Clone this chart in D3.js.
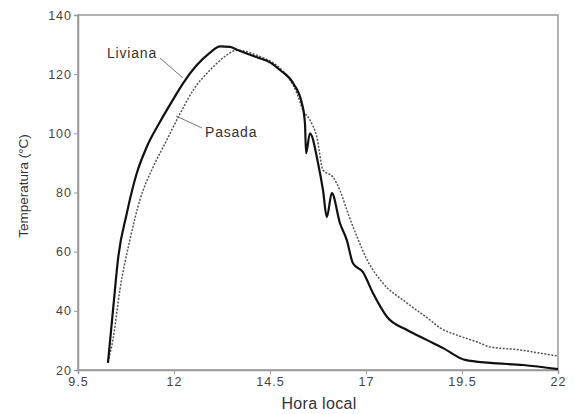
<!DOCTYPE html>
<html><head><meta charset="utf-8">
<script src="https://cdn.jsdelivr.net/npm/d3@7"></script>
<style>body{margin:0;background:#fff}svg{display:block;font-family:"Liberation Sans",Arial,sans-serif}</style>
</head><body><svg id="c" width="575" height="414"></svg>
<script>
const livianaHour = [10.28,10.42,10.55,10.77,11.03,11.29,11.64,11.98,12.24,12.59,12.94,13.20,13.46,13.67,14.16,14.5,14.76,15.10,15.33,15.41,15.44,15.54,15.75,15.88,15.98,16.11,16.32,16.50,16.66,16.92,17.18,17.55,18.07,18.59,19.01,19.58,20.23,21.09,22.0];
const livianaTemp = [22.4,41.4,58.3,72.9,86.5,95.4,104,111.5,117,123,127.3,129.4,129.2,128.1,125.7,124,121.4,117,110.2,103.4,93.3,100,90,80.8,71.7,79.8,69.7,63.9,56.1,53.1,46,37.9,33.5,30.1,27.4,23.4,22.4,21.7,20.3];
const pesadaHour = [10.28,10.42,10.59,10.85,11.11,11.46,11.81,12.16,12.50,12.94,13.37,13.63,14.16,14.5,14.81,15.2,15.36,15.54,15.72,15.88,16.14,16.32,16.53,16.77,17.03,17.44,18.07,18.67,18.93,19.37,19.97,20.23,21.01,21.53,22.0];
const pesadaTemp = [22.7,31,47,63.9,77.4,88.7,97.7,106.7,114.6,121.4,126.4,128.1,126.4,124.4,121.4,113.6,107.8,104.5,98.7,87.6,85.2,80.8,73,64.9,57.2,49.4,42.6,36.9,34.2,31.8,29.1,27.8,26.8,25.7,24.7];
const xTicks = [9.5,12,14.5,17,19.5,22];
const yTicks = [20,40,60,80,100,120,140];
const seriesNames = ["Liviana","Pasada"];

const svg = d3.select("#c");
const x = d3.scaleLinear().domain([9.5,22]).range([78,558]);
const y = d3.scaleLinear().domain([20,140]).range([370,15]);

svg.append("rect").attr("x",x(9.5)).attr("y",y(140)).attr("width",x(22)-x(9.5)).attr("height",y(20)-y(140))
  .attr("fill","none").attr("stroke","#999").attr("stroke-width",1.5);

const xa = svg.append("g").attr("transform",`translate(0,${y(20)})`)
  .call(d3.axisBottom(x).tickValues(xTicks).tickFormat(d=>String(d)).tickSize(4).tickPadding(3));
const ya = svg.append("g").attr("transform",`translate(${x(9.5)},0)`)
  .call(d3.axisLeft(y).tickValues(yTicks).tickSize(4).tickPadding(3));
[xa,ya].forEach(a=>{
  a.select(".domain").attr("stroke","#999").attr("stroke-width",1.5);
  a.selectAll(".tick line").attr("stroke","#999");
  a.selectAll(".tick text").attr("fill","#444").style("font-size","12.5px").style("letter-spacing","1px").style("font-family","Liberation Sans, Arial, sans-serif");
});
ya.selectAll(".tick text").attr("dx","1");

const line = d3.line().x(d=>x(d[0])).y(d=>y(d[1])).curve(d3.curveMonotoneX);
const pes = pesadaHour.map((h,i)=>[h,pesadaTemp[i]]);
const liv = livianaHour.map((h,i)=>[h,livianaTemp[i]]);
svg.append("path").datum(pes).attr("d",line).attr("fill","none").attr("stroke","#555").attr("stroke-width",1.5).attr("stroke-dasharray","2,1.5");
svg.append("path").datum(liv).attr("d",line).attr("fill","none").attr("stroke","#111").attr("stroke-width",2.2);

// labels with leader lines
svg.append("text").attr("x",107).attr("y",58).text(seriesNames[0]).attr("fill","#333").style("font-size","14px").style("letter-spacing","0.8px");
svg.append("line").attr("x1",160).attr("y1",58).attr("x2",183).attr("y2",78).attr("stroke","#777").attr("stroke-width",1);
svg.append("text").attr("x",205).attr("y",137).text(seriesNames[1]).attr("fill","#333").style("font-size","14px").style("letter-spacing","0.8px");
svg.append("line").attr("x1",202).attr("y1",128).attr("x2",176).attr("y2",116).attr("stroke","#777").attr("stroke-width",1);

svg.append("text").attr("x",319).attr("y",409).attr("text-anchor","middle").text("Hora local").attr("fill","#333").style("font-size","16px").style("letter-spacing","0.3px");
svg.append("text").attr("transform","translate(28,186) rotate(-90)").attr("text-anchor","middle").text("Temperatura (°C)").attr("fill","#333").style("font-size","13.5px");
</script></body></html>
